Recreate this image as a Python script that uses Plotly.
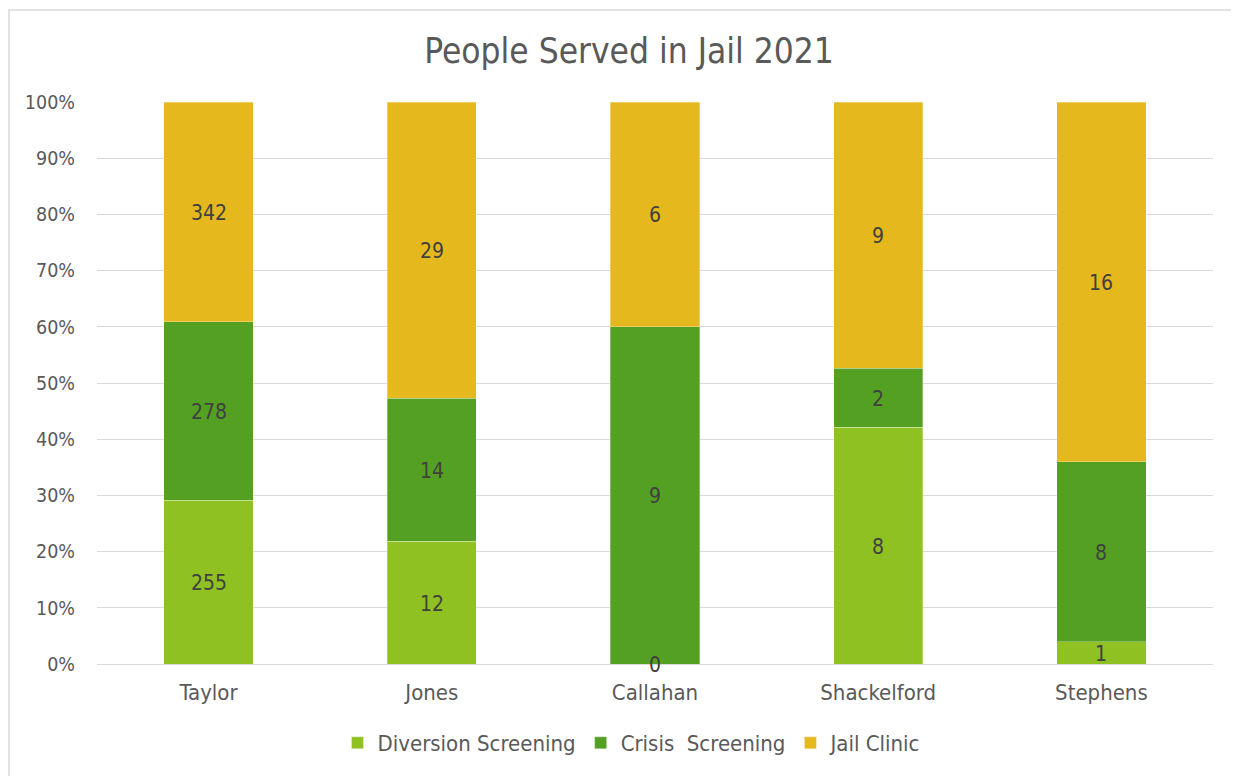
import plotly.graph_objects as go

categories = ["Taylor", "Jones", "Callahan", "Shackelford", "Stephens"]
diversion = [255, 12, 0, 8, 1]
crisis = [278, 14, 9, 2, 8]
clinic = [342, 29, 6, 9, 16]
series_names = ["Diversion Screening", "Crisis  Screening", "Jail Clinic"]
colors = ["#8FC123", "#54A022", "#E5B81E"]
ytick_vals = [0, 10, 20, 30, 40, 50, 60, 70, 80, 90, 100]
ytick_text = [f"{v}%" for v in ytick_vals]

FONT = "DejaVu Sans Condensed, Liberation Sans Narrow, sans-serif"

series = [diversion, crisis, clinic]
totals = [sum(s[i] for s in series) for i in range(len(categories))]
pcts = [[100.0 * s[i] / totals[i] for i in range(len(categories))] for s in series]

fig = go.Figure()
for name, p, col in zip(series_names, pcts, colors):
    fig.add_trace(go.Bar(
        x=categories, y=p, name=name,
        marker=dict(color=col, line=dict(width=0.6, color="rgba(255,255,255,0.5)")),
        width=0.4,
    ))

annotations = []
for si, s in enumerate(series):
    for i, cat in enumerate(categories):
        base = sum(pcts[k][i] for k in range(si))
        mid = base + pcts[si][i] / 2
        annotations.append(dict(
            x=cat, y=mid, xref="x", yref="y", text=str(s[i]), showarrow=False,
            font=dict(family=FONT, size=21, color="#404040"), yshift=-1,
        ))

# page body has an 8px margin; work in page coordinates and convert
OFF = 8
PW, PH = 1239, 776
W, H = PW - OFF, PH - OFF
L = 97 - OFF
T = 102 - OFF
R = PW - 1213
B = PH - 664

pw, ph = W - L - R, H - T - B

def px(x):
    return (x - OFF - L) / pw

def py(y):
    return (PH - B - y) / ph

fig.update_layout(
    width=W, height=H,
    margin=dict(l=L, r=R, t=T, b=B),
    barmode="stack",
    paper_bgcolor="white", plot_bgcolor="white",
    font=dict(family=FONT, size=20, color="#595959"),
    title=dict(text="People Served in Jail 2021", x=(629 - OFF) / W, xanchor="center",
               y=1 - (51 - OFF) / H, yanchor="middle",
               font=dict(family=FONT, size=35, color="#595959")),
    showlegend=True,
    legend=dict(orientation="h", x=px(632), xanchor="center", y=py(743), yanchor="middle",
                font=dict(family=FONT, size=22, color="#595959"), traceorder="normal",
                itemwidth=30, tracegroupgap=0),
    xaxis=dict(showgrid=False, showline=True, linecolor="#D9D9D9", linewidth=1.2,
               ticks="", ticklabelstandoff=8, tickfont=dict(family=FONT, size=22, color="#595959")),
    yaxis=dict(range=[0, 100], tickvals=ytick_vals, ticktext=ytick_text, showgrid=True,
               gridcolor="#D9D9D9", gridwidth=1.2, zeroline=False, showline=False, ticks="",
               ticklabelstandoff=21, tickfont=dict(family=FONT, size=19.5, color="#595959")),
    annotations=annotations,
    shapes=[dict(type="rect", xref="paper", yref="paper", x0=px(9), x1=px(1260), y0=py(800), y1=py(10),
                 line=dict(color="#D9D9D9", width=1.5), fillcolor="rgba(0,0,0,0)", layer="below")],
)

fig.write_html("out.html")
